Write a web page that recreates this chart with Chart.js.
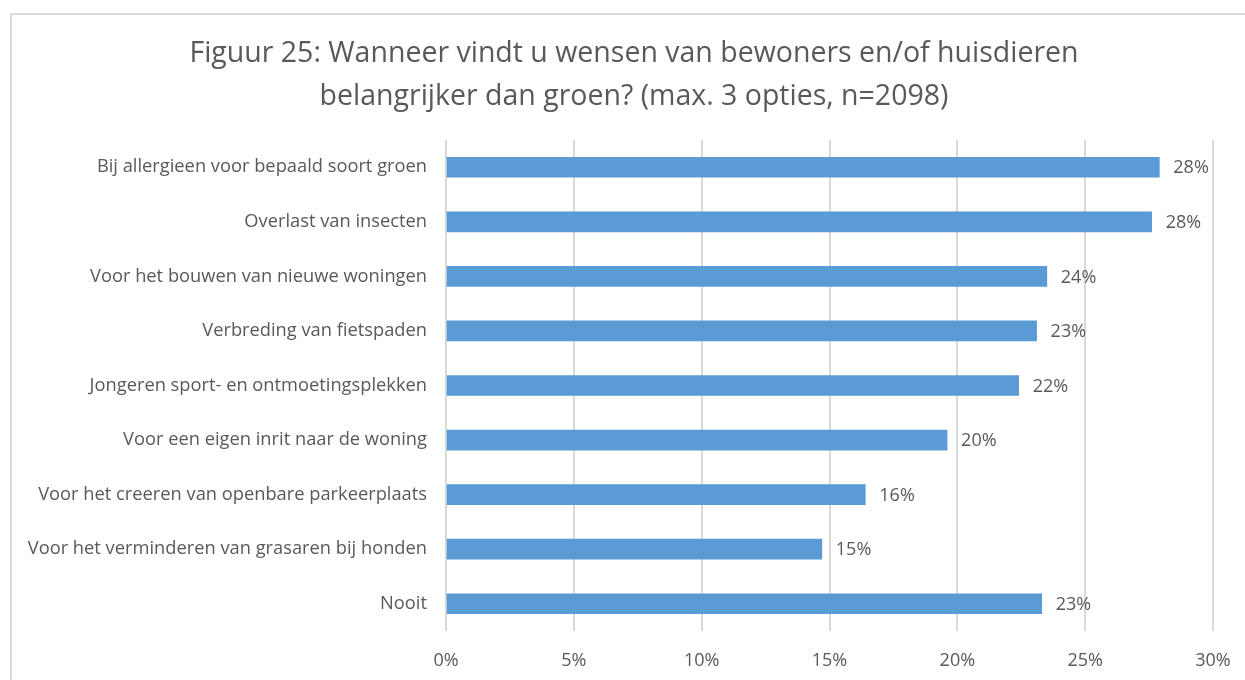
<!DOCTYPE html>
<html>
<head>
<meta charset="utf-8">
<script src="https://cdn.jsdelivr.net/npm/chart.js@4.4.1/dist/chart.umd.min.js"></script>
<style>
    body { margin: 0; background: #fff; overflow: hidden; }
    #wrap { position: relative; width: 1245px; height: 680px; }
    #frame { position: absolute; left: 10px; top: 13px; width: 1300px; height: 800px; border: 2px solid #d9d9d9; }
    canvas { position: absolute; left: 0; top: 0; }
</style>
</head>
<body>
<div id="wrap">
    <div id="frame"></div>
    <canvas id="groenChart" width="1245" height="680"></canvas>
</div>
<script>
const categories = [
    "Bij allergieen voor bepaald soort groen",
    "Overlast van insecten",
    "Voor het bouwen van nieuwe woningen",
    "Verbreding van fietspaden",
    "Jongeren sport- en ontmoetingsplekken",
    "Voor een eigen inrit naar de woning",
    "Voor het creeren van openbare parkeerplaats",
    "Voor het verminderen van grasaren bij honden",
    "Nooit"
];
const percentages = [27.9, 27.6, 23.5, 23.1, 22.4, 19.6, 16.4, 14.7, 23.3];
const xTicks = [0, 5, 10, 15, 20, 25, 30];
const titleLines = [
    "Figuur 25: Wanneer vindt u wensen van bewoners en/of huisdieren",
    "belangrijker dan groen? (max. 3 opties, n=2098)"
];

const textColor = "#595959";
const fontFamily = "'Open Sans', sans-serif";

// title is drawn by hand so it can be centred on the whole frame
const titleDraw = {
    id: 'titleDraw',
    afterDraw(chart) {
        const c = chart.ctx;
        c.save();
        c.font = "28.5px " + fontFamily;
        c.fillStyle = textColor;
        c.textAlign = "center";
        c.textBaseline = "middle";
        c.fillText(titleLines[0], 634, 54);
        c.fillText(titleLines[1], 634, 97);
        c.restore();
    }
};

// draws the value label right of each bar
const barLabels = {
    id: 'barLabels',
    afterDatasetsDraw(chart) {
        const c = chart.ctx;
        const meta = chart.getDatasetMeta(0);
        c.save();
        c.font = "18px " + fontFamily;
        c.fillStyle = textColor;
        c.textAlign = "left";
        c.textBaseline = "middle";
        meta.data.forEach((bar, i) => {
            c.fillText(Math.round(percentages[i]) + "%", bar.x + 14, bar.y + 1);
        });
        c.restore();
    }
};

const ctx = document.getElementById('groenChart').getContext('2d');
const groenChart = new Chart(ctx, {
    type: 'bar',
    data: {
        labels: categories,
        datasets: [{
            data: percentages,
            backgroundColor: "#5B9BD5",
            borderWidth: 0,
            barThickness: 20
        }]
    },
    options: {
        indexAxis: 'y',
        responsive: false,
        animation: false,
        layout: { padding: { left: 0, right: 32, top: 140, bottom: 0 } },
        plugins: {
            legend: { display: false },
            tooltip: { enabled: false },
            title: { display: false }
        },
        scales: {
            x: {
                min: 0,
                max: 30,
                afterBuildTicks(scale) {
                    scale.ticks = xTicks.map(v => ({ value: v }));
                },
                afterFit(scale) {
                    scale.height = 49;
                    scale.paddingLeft = 0;
                    scale.paddingRight = 0;
                },
                ticks: {
                    color: textColor,
                    font: { family: fontFamily, size: 18 },
                    padding: 19,
                    callback: v => v + "%"
                },
                grid: { color: "#d9d9d9", lineWidth: 2, drawTicks: false },
                border: { display: false }
            },
            y: {
                afterFit(scale) {
                    scale.width = 446;
                    scale.paddingTop = 0;
                    scale.paddingBottom = 0;
                },
                ticks: {
                    color: textColor,
                    font: { family: fontFamily, size: 18.3 },
                    padding: 11
                },
                grid: { display: false },
                border: { display: false }
            }
        }
    },
    plugins: [barLabels, titleDraw]
});
</script>
</body>
</html>
